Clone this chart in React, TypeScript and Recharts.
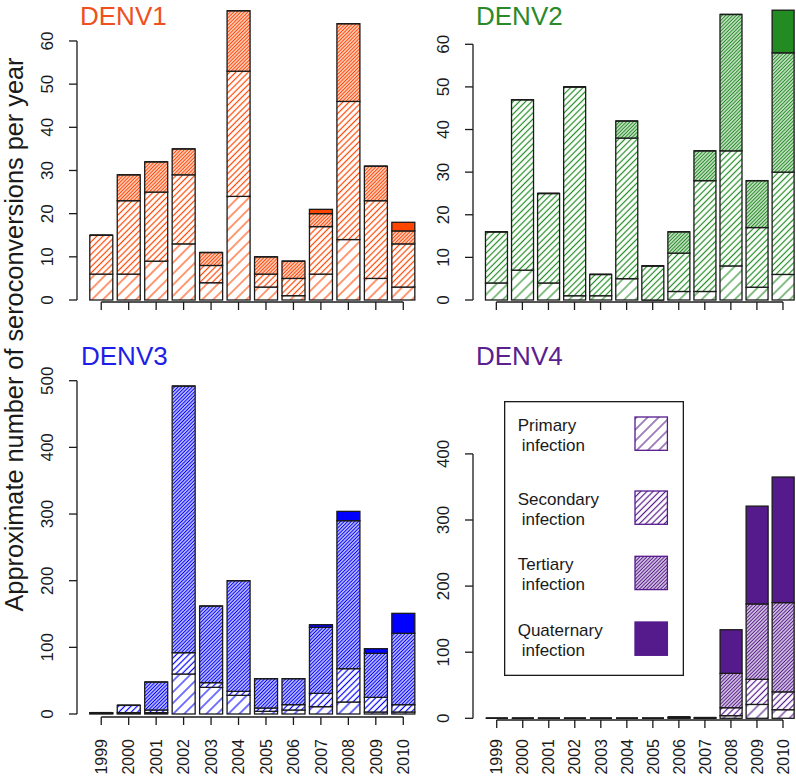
import React from 'react';
import * as R from 'recharts';

const RA: any = R;
const { BarChart, Bar, XAxis, YAxis, Legend } = RA;

// ---------- data ----------
const years = ['1999', '2000', '2001', '2002', '2003', '2004', '2005', '2006', '2007', '2008', '2009', '2010'];
const seriesNames = ['Primary infection', 'Secondary infection', 'Tertiary infection', 'Quaternary infection'];

const denv1Primary = [6, 6, 9, 13, 4, 24, 3, 1, 6, 14, 5, 3];
const denv1Secondary = [9, 17, 16, 16, 4, 29, 3, 4, 11, 32, 18, 10];
const denv1Tertiary = [0, 6, 7, 6, 3, 14, 4, 4, 3, 18, 8, 3];
const denv1Quaternary = [0, 0, 0, 0, 0, 0, 0, 0, 1, 0, 0, 2];

const denv2Primary = [4, 7, 4, 1, 1, 5, 0, 2, 2, 8, 3, 6];
const denv2Secondary = [12, 40, 21, 49, 5, 33, 8, 9, 26, 27, 14, 24];
const denv2Tertiary = [0, 0, 0, 0, 0, 4, 0, 5, 7, 32, 11, 28];
const denv2Quaternary = [0, 0, 0, 0, 0, 0, 0, 0, 0, 0, 0, 10];

const denv3Primary = [1, 2, 2, 60, 40, 28, 4, 6, 11, 18, 3, 3];
const denv3Secondary = [1, 11, 4, 32, 7, 6, 5, 8, 20, 50, 22, 11];
const denv3Tertiary = [0, 0, 42, 400, 115, 166, 44, 39, 99, 222, 66, 107];
const denv3Quaternary = [0, 0, 0, 0, 0, 0, 0, 0, 4, 14, 7, 30];

const denv4Primary = [0, 0, 0, 0, 0, 0, 0, 1, 1, 4, 21, 13];
const denv4Secondary = [0, 0, 0, 0, 0, 0, 0, 1, 0, 12, 38, 27];
const denv4Tertiary = [0, 0, 0, 0, 0, 0, 0, 0, 0, 52, 114, 135];
const denv4Quaternary = [0, 0, 0, 0, 0, 0, 0, 0, 0, 66, 148, 190];

const ticks60 = [0, 10, 20, 30, 40, 50, 60];
const ticks500 = [0, 100, 200, 300, 400, 500];
const ticks400 = [0, 100, 200, 300, 400];

const FONT = '"Liberation Sans", Arial, Helvetica, sans-serif';
const INK = '#1a1a1a';

function buildRows(p: number[], s: number[], t: number[], q: number[]) {
  return years.map((y, i) => ({ year: y, primary: p[i], secondary: s[i], tertiary: t[i], quaternary: q[i] }));
}

const panels = [
  {
    id: 'd1', color: '#FF4500', rows: buildRows(denv1Primary, denv1Secondary, denv1Tertiary, denv1Quaternary),
    yTicks: ticks60, domain: [-0.463, 69.49],
    box: { left: 0, top: 0, width: 420, height: 340 }, margin: { top: 0, right: 3, bottom: 8, left: 17 },
    xAxisHeight: 30, xTickMargin: 14, showXLabels: false, padLeft: 10.5, legend: false,
  },
  {
    id: 'd2', color: '#228B22', rows: buildRows(denv2Primary, denv2Secondary, denv2Tertiary, denv2Quaternary),
    yTicks: ticks60, domain: [-0.469, 70.39],
    box: { left: 400, top: 0, width: 396, height: 340 }, margin: { top: 0, right: 0, bottom: 8, left: 13 },
    xAxisHeight: 30, xTickMargin: 14, showXLabels: false, padLeft: 10.3, legend: false,
  },
  {
    id: 'd3', color: '#0000FF', rows: buildRows(denv3Primary, denv3Secondary, denv3Tertiary, denv3Quaternary),
    yTicks: ticks500, domain: [-4.5, 561.1],
    box: { left: 0, top: 330, width: 420, height: 447 }, margin: { top: 10, right: 3, bottom: 0, left: 17 },
    xAxisHeight: 60, xTickMargin: 14, showXLabels: true, padLeft: 10.5, legend: false,
  },
  {
    id: 'd4', color: '#551A8B', rows: buildRows(denv4Primary, denv4Secondary, denv4Tertiary, denv4Quaternary),
    yTicks: ticks400, domain: [-2.57, 572.3],
    box: { left: 400, top: 330, width: 396, height: 447 }, margin: { top: 10, right: 0, bottom: 0, left: 13 },
    xAxisHeight: 57, xTickMargin: 11, showXLabels: true, padLeft: 10.7, legend: true,
  },
];

const titles = [
  { text: 'DENV1', x: 80, y: 25, color: '#EE5020' },
  { text: 'DENV2', x: 476, y: 25, color: '#2A8A2A' },
  { text: 'DENV3', x: 81, y: 365, color: '#1E1EE6' },
  { text: 'DENV4', x: 476, y: 365, color: '#5A2090' },
];

// ---------- patterns ----------
function Hatch({ id, color, spacing, lw }: { id: string; color: string; spacing: number; lw: number }) {
  return (
    <pattern id={id} patternUnits="userSpaceOnUse" width={spacing} height={spacing} patternTransform="rotate(45)">
      <rect x={0} y={0} width={spacing} height={spacing} fill="#ffffff" />
      <line x1={spacing / 2} y1={-1} x2={spacing / 2} y2={spacing + 1} stroke={color} strokeWidth={lw} />
    </pattern>
  );
}

function PatternDefs() {
  return (
    <svg width={0} height={0} style={{ position: 'absolute', left: 0, top: 0 }}>
      <defs>
        {panels.map((p) => (
          <React.Fragment key={p.id}>
            <Hatch id={`${p.id}-p`} color={p.color} spacing={7.8} lw={1.1} />
            <Hatch id={`${p.id}-s`} color={p.color} spacing={4.4} lw={1.2} />
            <Hatch id={`${p.id}-t`} color={p.color} spacing={2.5} lw={1.35} />
          </React.Fragment>
        ))}
      </defs>
    </svg>
  );
}

// ---------- helpers ----------
function usePlot(): { x: number; y: number; width: number; height: number } | null {
  if (RA.usePlotArea) {
    return RA.usePlotArea() || null;
  }
  if (RA.useOffset && RA.useChartWidth && RA.useChartHeight) {
    const o = RA.useOffset();
    const w = RA.useChartWidth();
    const h = RA.useChartHeight();
    if (!o || !w || !h) return null;
    return { x: o.left, y: o.top, width: w - o.left - o.right, height: h - o.top - o.bottom };
  }
  return null;
}

function AxisLines({ domain, yTop, padLeft, nCats }: { domain: number[]; yTop: number; padLeft: number; nCats: number }) {
  const plot = usePlot();
  if (!plot) return null;
  const { x, y, width, height } = plot;
  const toPx = (v: number) => y + (height * (domain[1] - v)) / (domain[1] - domain[0]);
  const step = (width - padLeft) / nCats;
  const bottom = y + height;
  return (
    <g>
      <line x1={x} x2={x} y1={toPx(0)} y2={toPx(yTop)} stroke={INK} strokeWidth={1.3} />
      <line x1={x + padLeft + step / 2} x2={x + padLeft + step * (nCats - 0.5)} y1={bottom} y2={bottom} stroke={INK} strokeWidth={1.3} />
    </g>
  );
}

const makeShape = (fill: string) => (props: any) => {
  const { x, y, width, height } = props;
  if (x == null || width == null) return null;
  if (!height) {
    return <line x1={x} x2={x + width} y1={y} y2={y} stroke={INK} strokeWidth={1.4} />;
  }
  const h = Math.abs(height);
  const yy = height < 0 ? y + height : y;
  return <rect x={x} y={yy} width={width} height={h} fill={fill} stroke={INK} strokeWidth={1.3} />;
};

const YTick = (props: any) => {
  const { x, y, payload } = props;
  return (
    <text x={x} y={y} transform={`rotate(-90 ${x} ${y})`} textAnchor="middle" fontSize={17} fontFamily={FONT} fill={INK}>
      {payload.value}
    </text>
  );
};

const makeXTick = (show: boolean) => (props: any) => {
  const { x, y, payload } = props;
  if (!show) return <g />;
  const bx = x + 5.7;
  return (
    <text x={bx} y={y} transform={`rotate(-90 ${bx} ${y})`} textAnchor="end" fontSize={16} fontFamily={FONT} fill={INK}>
      {payload.value}
    </text>
  );
};

const legendTops = [16, 90, 155.3, 221];

const makeLegend = (id: string, color: string) => (props: any) => {
  const payload = props && props.payload;
  const present: string[] = payload && payload.length ? payload.map((p: any) => String(p.value)) : seriesNames;
  const names = seriesNames.filter((n) => present.indexOf(n) >= 0);
  const fills = [`url(#${id}-p)`, `url(#${id}-s)`, `url(#${id}-t)`, color];
  return (
    <svg width={180} height={275} style={{ display: 'block', overflow: 'visible' }}>
      <rect x={0.65} y={0.65} width={178.7} height={273.7} fill="#ffffff" stroke={INK} strokeWidth={1.3} />
      {names.map((name) => {
        const i = seriesNames.indexOf(name);
        const parts = name.split(' ');
        const top = legendTops[i];
        return (
          <g key={name}>
            <text x={13.7} y={top + 14} fontSize={17} fontFamily={FONT} fill={INK}>{parts[0]}</text>
            <text x={17.7} y={top + 33.5} fontSize={17} fontFamily={FONT} fill={INK}>{parts.slice(1).join(' ')}</text>
            <rect x={131} y={top} width={32.4} height={33.3} fill={fills[i]} stroke={color} strokeWidth={1.3} />
          </g>
        );
      })}
    </svg>
  );
};

function Panel({ p }: { p: (typeof panels)[number] }) {
  const Cust = RA.Customized;
  const axisEl = <AxisLines domain={p.domain} yTop={p.yTicks[p.yTicks.length - 1]} padLeft={p.padLeft} nCats={years.length} />;
  const fills = [`url(#${p.id}-p)`, `url(#${p.id}-s)`, `url(#${p.id}-t)`, p.color];
  const keys = ['primary', 'secondary', 'tertiary', 'quaternary'];
  return (
    <div style={{ position: 'absolute', left: p.box.left, top: p.box.top, width: p.box.width, height: p.box.height }}>
      <BarChart width={p.box.width} height={p.box.height} data={p.rows} margin={p.margin} barCategoryGap="8.33%">
        <XAxis
          dataKey="year"
          type="category"
          height={p.xAxisHeight}
          padding={{ left: p.padLeft, right: 0 }}
          axisLine={false}
          tickLine={{ stroke: INK, strokeWidth: 1.3 }}
          tickSize={8}
          tickMargin={p.xTickMargin}
          interval={0}
          tick={makeXTick(p.showXLabels)}
        />
        <YAxis
          type="number"
          width={60}
          domain={p.domain}
          ticks={p.yTicks}
          axisLine={false}
          tickLine={{ stroke: INK, strokeWidth: 1.3 }}
          tickSize={8}
          tickMargin={16}
          interval={0}
          tick={YTick}
        />
        {keys.map((k, i) => (
          <Bar
            key={k}
            dataKey={k}
            name={seriesNames[i]}
            stackId="a"
            fill={fills[i]}
            stroke={INK}
            isAnimationActive={false}
            shape={makeShape(fills[i])}
          />
        ))}
        {p.legend ? (
          <Legend
            layout="vertical"
            align="center"
            verticalAlign="middle"
            content={makeLegend(p.id, p.color)}
            wrapperStyle={{ position: 'absolute', left: 104.3, top: 70.7, width: 180, height: 275, margin: 0, padding: 0 }}
          />
        ) : null}
        {Cust ? <Cust component={axisEl} /> : axisEl}
      </BarChart>
    </div>
  );
}

export default function App() {
  return (
    <div style={{ position: 'absolute', left: 0, top: 0, width: 796, height: 777, background: '#ffffff', overflow: 'hidden' }}>
      <PatternDefs />
      {panels.map((p) => (
        <Panel key={p.id} p={p} />
      ))}
      <svg width={796} height={777} style={{ position: 'absolute', left: 0, top: 0, pointerEvents: 'none' }}>
        {titles.map((t) => (
          <text key={t.text} x={t.x} y={t.y} fontSize={26} fontFamily={FONT} fill={t.color}>
            {t.text}
          </text>
        ))}
        <text
          x={23}
          y={334.5}
          transform="rotate(-90 23 334.5)"
          textAnchor="middle"
          fontSize={25.3}
          fontFamily={FONT}
          fill={INK}
        >
          Approximate number of seroconversions per year
        </text>
      </svg>
    </div>
  );
}
